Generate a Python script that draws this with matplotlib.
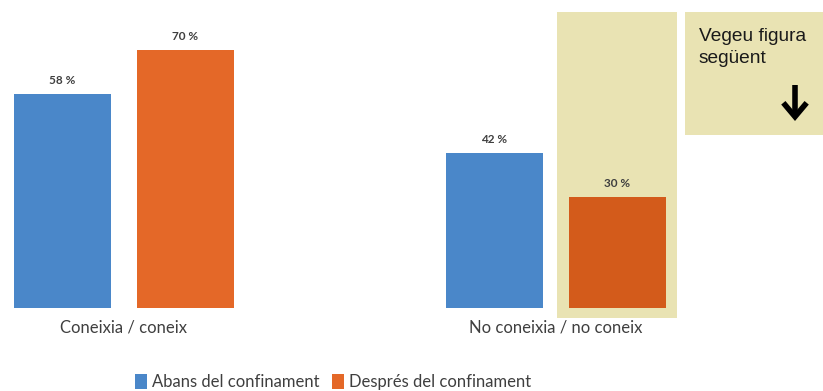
import matplotlib
matplotlib.use("Agg")
import matplotlib.pyplot as plt
from matplotlib.patches import Rectangle, Patch
import numpy as np

categories = ["Coneixia / coneix", "No coneixia / no coneix"]
series_names = ["Abans del confinament", "Després del confinament"]
abans = [58, 42]
despres = [70, 30]
value_labels_abans = ["58 %", "42 %"]
value_labels_despres = ["70 %", "30 %"]
note_text = "Vegeu figura\nsegüent"

blue = "#4A87C9"
orange = "#E46828"
orange_hl = "#D35B1B"
yellow = "#E9E3B3"
txt = "#3F3F3F"

fig = plt.figure(figsize=(8.23, 3.91), dpi=100)
ax = fig.add_axes([0, 0, 1, 1])
ppp = 3.69
ax.set_xlim(-124 / 432, (823 - 124) / 432)
ax.set_ylim(-83 / ppp, 308 / ppp)
ax.axis("off")

# highlight background behind second orange bar
ax.add_patch(Rectangle((557 / 823, (391 - 318) / 391), 120 / 823, 306 / 391,
                       transform=ax.transAxes, facecolor=yellow, edgecolor="none", zorder=0))
# note box
ax.add_patch(Rectangle((685 / 823, (391 - 135) / 391), 1 - 685 / 823, 123 / 391,
                       transform=ax.transAxes, facecolor=yellow, edgecolor="none", zorder=0))
ax.text(699 / 823, 1 - 28 / 391, note_text, transform=ax.transAxes, ha="left", va="top",
        fontsize=13.8, family="Liberation Sans", color="#1a1a1a", linespacing=1.38)
ax.annotate("", xy=(795 / 823, 1 - 121 / 391), xytext=(795 / 823, 1 - 85 / 391),
            xycoords="axes fraction", textcoords="axes fraction",
            arrowprops=dict(arrowstyle="->,head_length=0.5,head_width=0.42", lw=4.0,
                            color="black", mutation_scale=20, shrinkA=0, shrinkB=0,
                            joinstyle="miter", capstyle="butt"))

x = np.arange(len(categories))
w = 0.2245
off = 0.1424
b1 = ax.bar(x - off, abans, w, color=blue, zorder=2, label=series_names[0])
b2 = ax.bar(x + off, despres, w, color=[orange, orange_hl], zorder=2, label=series_names[1])

for rect, lab in zip(list(b1) + list(b2), value_labels_abans + value_labels_despres):
    ax.text(rect.get_x() + rect.get_width() / 2, rect.get_height() + 2.2, lab,
            ha="center", va="bottom", fontsize=8.5, family="Lato", fontweight="bold", color=txt)

for xi, c in zip(x, categories):
    ax.text(xi, -3.2, c, ha="center", va="top", fontsize=12, family="Lato", color=txt)

handles = [Patch(facecolor=blue), Patch(facecolor=orange)]
fig.legend(handles, series_names, loc="center", bbox_to_anchor=(333 / 823, 9 / 391), ncol=2,
           frameon=False, prop={"family": "Lato", "size": 12}, handlelength=0.7, handleheight=1.0,
           handletextpad=0.3, columnspacing=0.8, labelcolor=txt)

fig.savefig("out.png", dpi=100)
